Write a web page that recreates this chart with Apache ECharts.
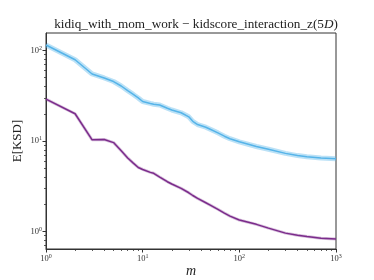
<!DOCTYPE html>
<html><head><meta charset="utf-8">
<script src="https://cdn.jsdelivr.net/npm/echarts@6/dist/echarts.min.js"></script>
<style>html,body{margin:0;padding:0;background:#fff}#c{width:374px;height:280px}</style>
</head><body><div id="c"></div>
<script>
const titleText = 'kidiq_with_mom_work − kidscore_interaction_z(5';
const titleItalic = 'D';
const xLabel = 'm';
const yLabel = 'E[KSD]';
const mValues = [1,2,3,4,5,6,7,8,9,10,12,13,15,18,20,25,30,33,37,45,50,60,70,80,100,150,200,300,400,500,700,1000];
const kidiqMom = [115,79,55,49.7,45.4,40.5,36,32.7,29.9,27.3,26,25.5,25,23,22,20.5,18.5,16.5,15.2,14.2,13.5,12.3,11.3,10.6,9.8,8.7,8.1,7.3,6.9,6.7,6.5,6.35];
const kidscoreInt = [29,20,10.3,10.4,9.6,7.8,6.5,5.7,5.1,4.85,4.5,4.4,4.0,3.55,3.35,3.0,2.68,2.5,2.32,2.08,1.96,1.76,1.6,1.48,1.34,1.2,1.09,0.96,0.91,0.88,0.845,0.825];
const xMajorTicks = [1,10,100,1000];
const yMajorTicks = [1,10,100];
const xRange = [1,1000];
const yRange = [0.641,156];

function minorTicks(lo, hi){
  const out=[];
  for(let e=-2;e<=3;e++){for(let k=2;k<=9;k++){const v=k*Math.pow(10,e);if(v>=lo&&v<=hi)out.push(v);}}
  return out;
}
const pair = (ys) => mValues.map((m,i)=>[m,ys[i]]);
const supFmt = v => '{b|10}{s|' + Math.round(Math.log10(v)) + '}';
const rich = {b:{fontFamily:'Liberation Serif',fontSize:8.5,color:'#333'},s:{fontFamily:'Liberation Serif',fontSize:6,color:'#333',verticalAlign:'top',padding:[0,0,5,0]}};
const axCol = '#333';

const chart = echarts.init(document.getElementById('c'));
chart.setOption({
  animation:false,
  title:{text:'{n|'+titleText+'}{i|'+titleItalic+'}{n|)}',left:191,textAlign:'center',top:13,
    textStyle:{fontWeight:'normal',rich:{n:{fontFamily:'Liberation Serif',fontWeight:'normal',fontSize:13.2,color:'#222'},i:{fontFamily:'Liberation Serif',fontWeight:'normal',fontStyle:'italic',fontSize:13.2,color:'#222'}}}},
  grid:{left:46,right:38,top:33,bottom:31,show:true,borderColor:axCol,borderWidth:1,backgroundColor:'transparent',containLabel:false,outerBoundsMode:'none'},
  xAxis:[
    {type:'log',min:xRange[0],max:xRange[1],position:'bottom',
     axisLine:{show:true,lineStyle:{color:axCol,width:1}},
     axisTick:{show:true,inside:false,length:3.5,customValues:xMajorTicks,lineStyle:{color:axCol}},
     axisLabel:{show:true,margin:4,customValues:xMajorTicks,formatter:supFmt,rich:rich},
     splitLine:{show:false},minorTick:{show:false},
     name:xLabel,nameLocation:'middle',nameGap:15,nameMoveOverlap:false,nameTextStyle:{fontFamily:'Liberation Serif',fontStyle:'italic',fontSize:14,color:'#222'}},
    {type:'log',min:xRange[0],max:xRange[1],position:'bottom',
     axisLine:{show:false},
     axisTick:{show:true,inside:false,length:2,customValues:minorTicks(xRange[0],xRange[1]),lineStyle:{color:axCol,width:0.8}},
     axisLabel:{show:false},splitLine:{show:false}}
  ],
  yAxis:[
    {type:'log',min:yRange[0],max:yRange[1],position:'left',
     axisLine:{show:true,lineStyle:{color:axCol,width:1}},
     axisTick:{show:true,inside:false,length:3.5,customValues:yMajorTicks,lineStyle:{color:axCol}},
     axisLabel:{show:true,margin:4,customValues:yMajorTicks,formatter:supFmt,rich:rich},
     splitLine:{show:false},minorTick:{show:false},
     name:yLabel,nameLocation:'middle',nameGap:22,nameMoveOverlap:false,nameRotate:90,nameTextStyle:{fontFamily:'Liberation Serif',fontSize:13,color:'#222'}},
    {type:'log',min:yRange[0],max:yRange[1],position:'left',
     axisLine:{show:false},
     axisTick:{show:true,inside:false,length:2,customValues:minorTicks(yRange[0],yRange[1]),lineStyle:{color:axCol,width:0.8}},
     axisLabel:{show:false},splitLine:{show:false}}
  ],
  series:[
    {type:'line',data:pair(kidiqMom),showSymbol:false,symbol:'none',lineStyle:{color:'rgba(86,180,233,0.4)',width:5},z:1,silent:true},
    {type:'line',data:pair(kidiqMom),showSymbol:false,symbol:'none',lineStyle:{color:'#56B4E9',width:1.5},z:2},
    {type:'line',data:pair(kidscoreInt),showSymbol:false,symbol:'none',lineStyle:{color:'rgba(123,44,139,0.3)',width:3},z:1,silent:true},
    {type:'line',data:pair(kidscoreInt),showSymbol:false,symbol:'none',lineStyle:{color:'#7b2c8b',width:1.5},z:2}
  ]
});
</script></body></html>
